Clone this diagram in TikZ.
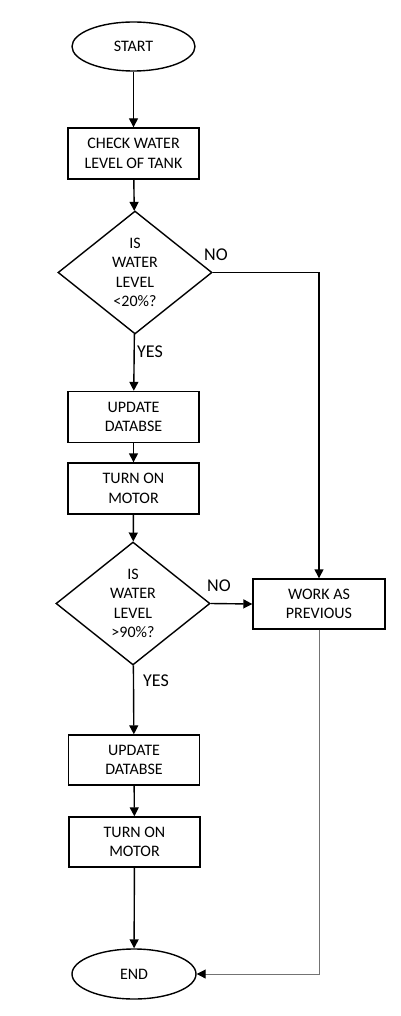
\documentclass[tikz,border=0pt]{standalone}
\usepackage{fontspec}
\setmainfont{Carlito}
\usetikzlibrary{shapes.geometric,arrows.meta,positioning,calc}
\tikzset{
  base/.style={draw=black, line width=1.4pt, inner sep=0pt, align=center, font=\fontsize{16}{19.5}\selectfont},
  procbox/.style={base, rectangle, minimum width=131pt, minimum height=51pt},
  termbox/.style={base, ellipse, minimum width=123pt, minimum height=49pt},
  decbox/.style={base, diamond, aspect=1.25, minimum width=154pt, minimum height=123pt},
  conn/.style={line width=1.4pt, -{Triangle[length=9pt,width=9pt]}},
  thinconn/.style={line width=1pt, draw=black!55, -{Triangle[length=9pt,width=9pt,fill=black,color=black]}},
  lbl/.style={font=\fontsize{18}{22}\selectfont, inner sep=0pt}
}
\begin{document}
\begin{tikzpicture}[x=1pt,y=-1pt]
\useasboundingbox (0,0) rectangle (401,1016);
\node[termbox] (start) at (133.5,46.5) {START};
\node[procbox] (check) at (133.5,153.5) {CHECK WATER\\LEVEL OF TANK};
\node[decbox] (d1) at (135,272.5) {IS\\WATER\\LEVEL\\<20\%?};
\node[procbox] (upd1) at (133.5,417) {UPDATE\\DATABSE};
\node[procbox] (turn1) at (133.5,488.5) {TURN ON\\MOTOR};
\node[decbox] (d2) at (133,603.5) {IS\\WATER\\LEVEL\\>90\%?};
\node[procbox, minimum width=132pt, minimum height=50pt] (work) at (319,604) {WORK AS\\PREVIOUS};
\node[procbox, minimum height=50pt] (upd2) at (134,760) {UPDATE\\DATABSE};
\node[procbox, minimum height=50pt] (turn2) at (134.5,842) {TURN ON\\MOTOR};
\node[termbox, minimum width=124pt, minimum height=50pt] (end) at (134,974) {END};

\node[lbl] (no1) at (216,255) {NO};
\node[lbl] (yes1) at (150,352) {YES};
\node[lbl] (no2) at (219,586) {NO};
\node[lbl] (yes2) at (156,681) {YES};

\draw[conn] (start) -- (check);
\draw[conn] (check) -- (d1);
\draw[conn] (d1) -- (upd1);
\draw[conn] (upd1) -- (turn1);
\draw[conn] (turn1) -- (d2);
\draw[conn] (d2) -- (upd2);
\draw[conn] (upd2) -- (turn2);
\draw[conn] (turn2) -- (end);
\draw[conn] (d1.east) -| (work.north);
\draw[conn] (d2.east) -- (work.west);
\draw[thinconn] (work.south) |- (end.east);
\end{tikzpicture}
\end{document}
